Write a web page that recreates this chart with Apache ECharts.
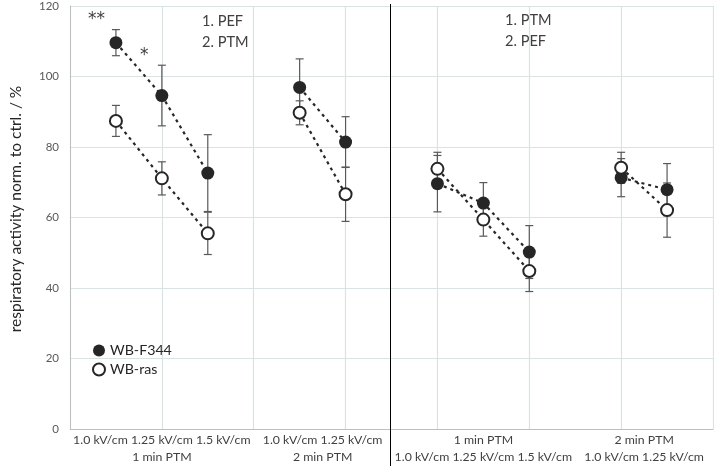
<!DOCTYPE html>
<html><head><meta charset="utf-8">
<script src="https://cdn.jsdelivr.net/npm/echarts@6/dist/echarts.min.js"></script>
<style>html,body{margin:0;padding:0;background:#fff}#c{width:714px;height:466px}</style>
</head><body><div id="c"></div>
<script>
const xPos = [1, 2, 3, 5, 6, 8, 9, 10, 12, 13];
const f344 = [109.6, 94.6, 72.6, 96.9, 81.4, 69.6, 64.1, 50.2, 71.3, 67.9];
const f344Err = [3.7, 8.6, 10.9, 8.1, 7.2, 8.0, 5.8, 7.5, 5.4, 7.4];
const ras = [87.4, 71.1, 55.5, 89.7, 66.6, 73.8, 59.4, 44.8, 74.1, 62.1];
const rasErr = [4.4, 4.7, 6.0, 3.4, 7.7, 4.7, 4.7, 5.8, 4.4, 7.7];
const groups = [[0, 1, 2], [3, 4], [5, 6, 7], [8, 9]];
const groupCenters = [2, 5.5, 9, 12.5];
const groupLabels = [
  '1.0 kV/cm 1.25 kV/cm 1.5 kV/cm\n1 min PTM',
  '1.0 kV/cm 1.25 kV/cm\n2 min PTM',
  '1 min PTM\n1.0 kV/cm 1.25 kV/cm 1.5 kV/cm',
  '2 min PTM\n1.0 kV/cm 1.25 kV/cm'
];
const dividerX = 7;
const yTicks = [0, 20, 40, 60, 80, 100, 120];

const FONT = 'Lato';
const dark = '#262626';

function errData(vals, errs) {
  return xPos.map((x, i) => [x, vals[i] - errs[i], vals[i] + errs[i]]);
}
function errSeries(vals, errs) {
  return {
    type: 'custom', silent: true, z: 2,
    data: errData(vals, errs),
    renderItem: function (params, api) {
      const x = api.value(0);
      const lo = api.coord([x, api.value(1)]);
      const hi = api.coord([x, api.value(2)]);
      const w = 4;
      const st = { stroke: '#595959', lineWidth: 1.2 };
      return { type: 'group', children: [
        { type: 'line', shape: { x1: lo[0], y1: lo[1], x2: hi[0], y2: hi[1] }, style: st },
        { type: 'line', shape: { x1: lo[0] - w, y1: lo[1], x2: lo[0] + w, y2: lo[1] }, style: st },
        { type: 'line', shape: { x1: hi[0] - w, y1: hi[1], x2: hi[0] + w, y2: hi[1] }, style: st }
      ]};
    }
  };
}
function lineSeries(vals) {
  return groups.map(g => ({
    type: 'line', silent: true, z: 3, symbol: 'none',
    data: g.map(i => [xPos[i], vals[i]]),
    lineStyle: { color: dark, width: 2.2, type: [3, 4] }
  }));
}

const chart = echarts.init(document.getElementById('c'));
chart.setOption({
  animation: false,
  textStyle: { fontFamily: FONT },
  grid: { left: 48, right: 1, top: 5, bottom: 34 },
  legend: {
    orient: 'vertical', left: 92, top: 342, padding: 0,
    itemWidth: 12, itemHeight: 12, itemGap: 2,
    textStyle: { fontFamily: FONT, fontSize: 14.2, lineHeight: 17, color: '#262626' },
    data: ['WB-F344', 'WB-ras']
  },
  xAxis: {
    type: 'value', min: 0, max: 14, interval: 2,
    axisLine: { show: true, lineStyle: { color: '#bfbfbf' } },
    axisTick: { show: false },
    splitLine: { show: true, lineStyle: { color: '#d9e3e3', width: 1.2 } },
    axisLabel: {
      customValues: groupCenters,
      formatter: function (v) {
        const i = groupCenters.indexOf(v);
        return i >= 0 ? groupLabels[i] : '';
      },
      color: '#404040', fontFamily: FONT, fontSize: 12.3, lineHeight: 17, margin: 3
    }
  },
  yAxis: {
    type: 'value', min: 0, max: 120, interval: 20,
    name: 'respiratory activity norm. to ctrl. / %',
    nameLocation: 'middle', nameGap: 46,
    nameTextStyle: { fontFamily: FONT, fontSize: 15.5, color: '#262626', padding: [0, 0, 0, 17] },
    axisLine: { show: true, lineStyle: { color: '#bfbfbf' } },
    axisTick: { show: false },
    splitLine: { show: true, lineStyle: { color: '#d9e3e3', width: 1.2 } },
    axisLabel: { color: '#595959', fontFamily: FONT, fontSize: 11.5, margin: 11,
      formatter: v => yTicks.indexOf(v) >= 0 ? String(v) : '' }
  },
  graphic: [
    { type: 'text', left: 202, top: 11, style: { text: '1. PEF\n2. PTM', fontFamily: FONT, fontSize: 14.6, lineHeight: 21, fill: '#404040' } },
    { type: 'text', left: 505, top: 10, style: { text: '1. PTM\n2. PEF', fontFamily: FONT, fontSize: 14.6, lineHeight: 21, fill: '#404040' } },
    { type: 'text', left: 88, top: 11, style: { text: '**', fontFamily: 'DejaVu Sans', fontSize: 17, fill: '#404040' } },
    { type: 'text', left: 140, top: 47, style: { text: '*', fontFamily: 'DejaVu Sans', fontSize: 17, fill: '#404040' } }
  ],
  series: [
    {
      type: 'custom', silent: true, z: 5, clip: false,
      data: [[dividerX]],
      renderItem: function (params, api) {
        const top = api.coord([api.value(0), 120]);
        return { type: 'line', shape: { x1: top[0] - 1, y1: top[1] - 2, x2: top[0] - 1, y2: api.getHeight() },
          style: { stroke: '#000', lineWidth: 1 } };
      }
    },
    errSeries(f344, f344Err),
    errSeries(ras, rasErr),
    ...lineSeries(f344),
    ...lineSeries(ras),
    {
      name: 'WB-F344', type: 'scatter', z: 4, symbol: 'circle', symbolSize: 13,
      data: xPos.map((x, i) => [x, f344[i]]),
      itemStyle: { color: '#262626', opacity: 1 }
    },
    {
      name: 'WB-ras', type: 'scatter', z: 4, symbol: 'circle', symbolSize: 12,
      data: xPos.map((x, i) => [x, ras[i]]),
      itemStyle: { color: '#ffffff', borderColor: '#262626', borderWidth: 2, opacity: 1 }
    }
  ]
});
</script></body></html>
